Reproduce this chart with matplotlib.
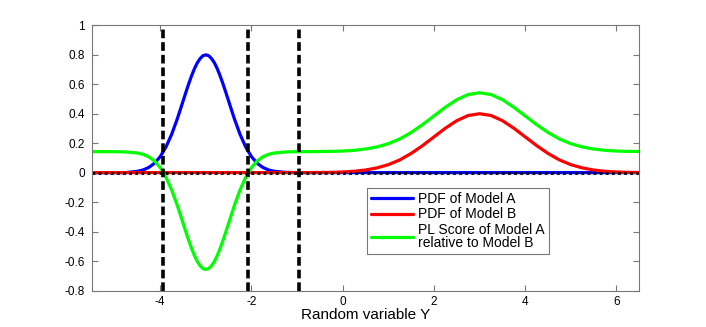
import numpy as np
import matplotlib
matplotlib.use("Agg")
import matplotlib.pyplot as plt

plt.rcParams['font.family'] = ['Liberation Sans', 'DejaVu Sans']
plt.rcParams['axes.unicode_minus'] = False

# values (x in steps of 0.25, finer near Model A peak)
x = [-5.5, -5.25, -5.0, -4.75, -4.5, -4.375, -4.25, -4.125, -4.0, -3.875, -3.75,
     -3.625, -3.5, -3.4375, -3.375, -3.3125, -3.25, -3.1875, -3.125, -3.0625, -3.0,
     -2.9375, -2.875, -2.8125, -2.75, -2.6875, -2.625, -2.5625, -2.5,
     -2.375, -2.25, -2.125, -2.0, -1.875, -1.75, -1.625, -1.5, -1.25, -1.0,
     -0.75, -0.5, -0.25, 0.0, 0.25, 0.5, 0.75, 1.0, 1.25, 1.5, 1.75, 2.0,
     2.25, 2.5, 2.75, 3.0, 3.25, 3.5, 3.75, 4.0, 4.25, 4.5, 4.75, 5.0, 5.25,
     5.5, 5.75, 6.0, 6.25, 6.5]

pdf_a = [0.0, 0.0, 0.0, 0.0002, 0.0089, 0.018, 0.035, 0.0635, 0.108, 0.173, 0.259,
         0.365, 0.484, 0.544, 0.602, 0.656, 0.704, 0.744, 0.773, 0.792, 0.798,
         0.792, 0.773, 0.744, 0.704, 0.656, 0.602, 0.544, 0.484,
         0.365, 0.259, 0.173, 0.108, 0.0635, 0.035, 0.018, 0.0089, 0.0017, 0.0003,
         0.0, 0.0, 0.0, 0.0, 0.0, 0.0, 0.0, 0.0, 0.0, 0.0, 0.0, 0.0,
         0.0, 0.0, 0.0, 0.0, 0.0, 0.0, 0.0, 0.0, 0.0, 0.0, 0.0, 0.0, 0.0,
         0.0, 0.0, 0.0, 0.0, 0.0]

pdf_b = [0.0, 0.0, 0.0, 0.0, 0.0, 0.0, 0.0, 0.0, 0.0, 0.0, 0.0,
         0.0, 0.0, 0.0, 0.0, 0.0, 0.0, 0.0, 0.0, 0.0, 0.0,
         0.0, 0.0, 0.0, 0.0, 0.0, 0.0, 0.0, 0.0,
         0.0, 0.0, 0.0, 0.0, 0.0, 0.0, 0.0, 0.0, 0.0, 0.0001,
         0.0004, 0.0009, 0.0019, 0.0044, 0.0091, 0.0175, 0.032, 0.054, 0.086, 0.130, 0.183, 0.242,
         0.301, 0.352, 0.387, 0.399, 0.387, 0.352, 0.301, 0.242, 0.183, 0.130, 0.086, 0.054, 0.032,
         0.0175, 0.0091, 0.0044, 0.0019, 0.0009]

pl_score = [0.142, 0.142, 0.142, 0.140, 0.133, 0.124, 0.107, 0.079, 0.034, -0.031, -0.117,
            -0.223, -0.342, -0.402, -0.460, -0.514, -0.562, -0.602, -0.631, -0.650, -0.656,
            -0.650, -0.631, -0.602, -0.562, -0.514, -0.460, -0.402, -0.342,
            -0.223, -0.117, -0.031, 0.034, 0.079, 0.107, 0.124, 0.133, 0.140, 0.142,
            0.142, 0.143, 0.144, 0.146, 0.151, 0.160, 0.174, 0.196, 0.228, 0.272, 0.325, 0.384,
            0.443, 0.494, 0.529, 0.541, 0.529, 0.494, 0.443, 0.384, 0.325, 0.272, 0.228, 0.196, 0.174,
            0.160, 0.151, 0.146, 0.144, 0.143]

vlines = [-3.93, -2.07, -0.96]

fig = plt.figure(figsize=(7.06, 3.27), dpi=100)
ax = fig.add_axes([0.130, 0.111, 0.7755, 0.8125])

kw = dict(lw=2.3, solid_joinstyle='round', solid_capstyle='round')
ax.plot(x, pdf_a, color='#0000ff', label='PDF of Model A', **kw)
ax.plot(x, pdf_b, color='#ff0000', label='PDF of Model B', **kw)
ax.plot(x, pl_score, color='#00ff00',
        label='PL Score of Model A\nrelative to Model B', **kw)
ax.axhline(0, color='black', lw=2, ls=(0, (1, 1.2)))
for v in vlines:
    ax.axvline(v, color='black', lw=2.6, ls=(0, (2.4, 1.1)))

ax.set_xlim(-5.5, 6.5)
ax.set_ylim(-0.8, 1)
ax.set_xticks([-4, -2, 0, 2, 4, 6])
ax.set_yticks([-0.8, -0.6, -0.4, -0.2, 0, 0.2, 0.4, 0.6, 0.8, 1])
ax.set_yticklabels(['-0.8', '-0.6', '-0.4', '-0.2', '0', '0.2', '0.4', '0.6', '0.8', '1'])
ax.tick_params(direction='in', top=True, right=True, labelsize=8.5, length=4,
               color='#777777')
ax.tick_params(axis='y', pad=5)
ax.tick_params(axis='x', pad=4)
for s in ax.spines.values():
    s.set_color('#777777')
    s.set_linewidth(0.8)
ax.set_xlabel('Random variable Y', fontsize=11, labelpad=0)

leg = ax.legend(loc='upper left', bbox_to_anchor=(0.503, 0.387), fontsize=10,
                frameon=True, fancybox=False, handlelength=3.0, borderpad=0.3,
                labelspacing=0.1, handletextpad=0.35, borderaxespad=0)
for t in leg.get_texts():
    t.set_linespacing(0.9)
leg.get_frame().set_edgecolor('#555555')
leg.get_frame().set_linewidth(0.8)

fig.savefig('out.png', dpi=100)
